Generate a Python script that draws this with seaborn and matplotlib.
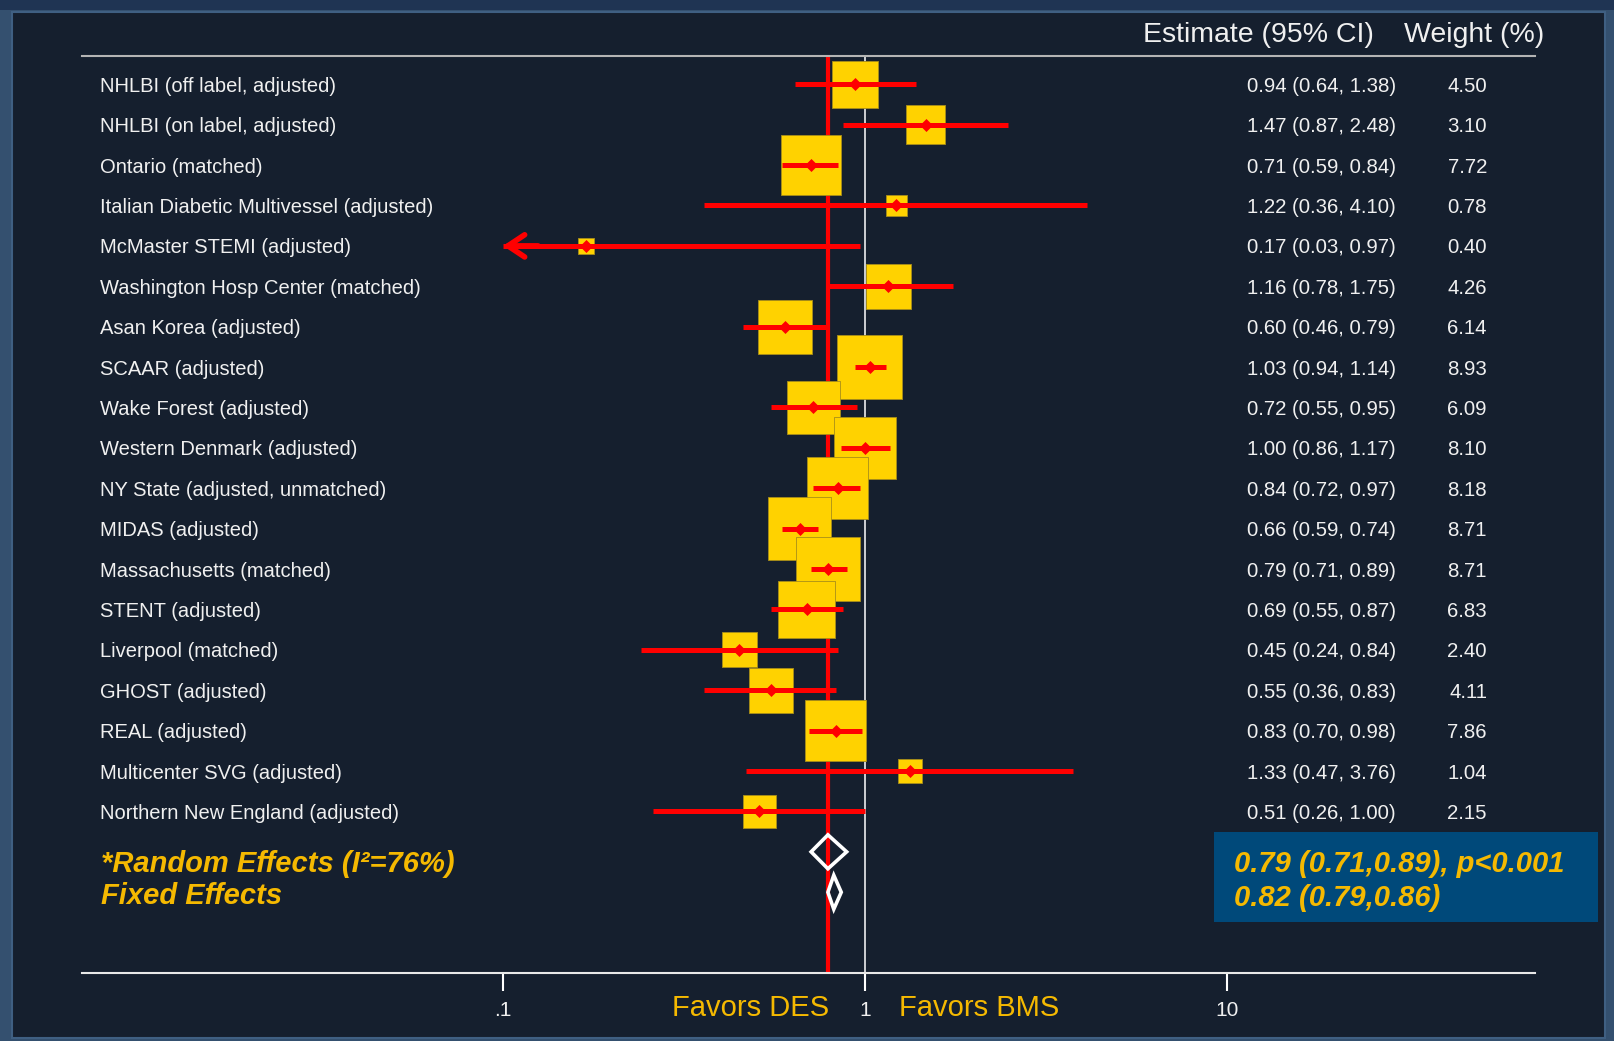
import numpy as np
import pandas as pd
import matplotlib
matplotlib.use("Agg")
import matplotlib.pyplot as plt
import matplotlib.transforms as mtransforms
from matplotlib.patches import Rectangle
from matplotlib.ticker import NullLocator
import seaborn as sns

# ---- data -------------------------------------------------------------
studies = [
    "NHLBI (off label, adjusted)",
    "NHLBI (on label, adjusted)",
    "Ontario (matched)",
    "Italian Diabetic Multivessel (adjusted)",
    "McMaster STEMI (adjusted)",
    "Washington Hosp Center (matched)",
    "Asan Korea (adjusted)",
    "SCAAR (adjusted)",
    "Wake Forest (adjusted)",
    "Western Denmark (adjusted)",
    "NY State (adjusted, unmatched)",
    "MIDAS (adjusted)",
    "Massachusetts (matched)",
    "STENT (adjusted)",
    "Liverpool (matched)",
    "GHOST (adjusted)",
    "REAL (adjusted)",
    "Multicenter SVG (adjusted)",
    "Northern New England (adjusted)",
]
estimate = [0.94, 1.47, 0.71, 1.22, 0.17, 1.16, 0.60, 1.03, 0.72, 1.00,
            0.84, 0.66, 0.79, 0.69, 0.45, 0.55, 0.83, 1.33, 0.51]
ci_low = [0.64, 0.87, 0.59, 0.36, 0.03, 0.78, 0.46, 0.94, 0.55, 0.86,
          0.72, 0.59, 0.71, 0.55, 0.24, 0.36, 0.70, 0.47, 0.26]
ci_high = [1.38, 2.48, 0.84, 4.10, 0.97, 1.75, 0.79, 1.14, 0.95, 1.17,
           0.97, 0.74, 0.89, 0.87, 0.84, 0.83, 0.98, 3.76, 1.00]
weight = [4.50, 3.10, 7.72, 0.78, 0.40, 4.26, 6.14, 8.93, 6.09, 8.10,
          8.18, 8.71, 8.71, 6.83, 2.40, 4.11, 7.86, 1.04, 2.15]

random_effect = [0.79, 0.71, 0.89]   # estimate, low, high
fixed_effect = [0.82, 0.79, 0.86]
random_label = "*Random Effects (I\u00b2=76%)"
fixed_label = "Fixed Effects"
p_value_text = "p<0.001"

x_ticks = [0.1, 1, 10]
x_tick_labels = [".1", "1", "10"]
favors_left = "Favors DES"
favors_right = "Favors BMS"
header_estimate = "Estimate (95% CI)"
header_weight = "Weight (%)"

# ---- style --------------------------------------------------------------
sns.set_theme(style="ticks")
plt.rcParams["font.family"] = ["Liberation Sans", "DejaVu Sans"]

FRAME = "#34506F"
FRAME_TOP = "#1F3453"
PANEL = "#151F2E"
GOLD_BOX = "#FFD200"
GOLD_TEXT = "#F5B901"
RED = "#FF0000"
TEXT = "#F0F0F0"
BOX_BLUE = "#00497A"

W, H = 1614, 1041
fig = plt.figure(figsize=(W / 100, H / 100), dpi=100, facecolor=FRAME)


def fx(px):
    return px / W


def fy(py):
    return 1 - py / H


# slide-style frame and dark panel
fig.add_artist(Rectangle((0, fy(10)), 1, 10 / H, transform=fig.transFigure,
                         facecolor=FRAME_TOP, edgecolor="none", zorder=-2))
fig.add_artist(Rectangle((fx(12), fy(1038)), fx(1605) - fx(12), (1038 - 12) / H,
                         transform=fig.transFigure, facecolor=PANEL,
                         edgecolor="#3F5F82", linewidth=1.5, zorder=-1))

ax = fig.add_axes([fx(82), fy(973), fx(1535) - fx(82), (973 - 56) / H])
ax.set_facecolor("none")
ax.set_xscale("log")
ax.set_xlim(10 ** -2.163, 10 ** 1.851)
n = len(studies)
ax.set_ylim(22, -0.7)

rows = np.arange(n)
df = pd.DataFrame({
    "study": studies, "est": estimate, "lo": ci_low, "hi": ci_high,
    "w": weight, "row": rows,
})

# box side grows with the square root of the weight (area ~ weight)
side_px = 3 + 20.5 * np.sqrt(df["w"].to_numpy())
side_pt = side_px * 72 / 100
box_area = side_pt ** 2

# reference lines
ax.axvline(1, color="white", lw=1.1, zorder=1)
ax.axvline(random_effect[0], color=RED, lw=3.0, zorder=1)

# weighted boxes
sns.scatterplot(data=df, x="est", y="row", marker="s", s=box_area,
                color=GOLD_BOX, edgecolor="#A88E1A", linewidth=0.6,
                zorder=3, ax=ax, legend=False)

# confidence intervals (clipped at the first tick, with an arrow)
clip_low = x_ticks[0]
lo_drawn = np.maximum(df["lo"].to_numpy(), clip_low)
ax.hlines(df["row"], lo_drawn, df["hi"], colors=RED, lw=3.6, zorder=4)
for r, lo in zip(df["row"], df["lo"]):
    if lo < clip_low:
        ax.annotate("", xy=(clip_low, r), xytext=(clip_low * 1.25, r),
                    arrowprops=dict(arrowstyle="->,head_length=0.6,head_width=0.4",
                                    color=RED, lw=4.0, shrinkA=0, shrinkB=0,
                                    mutation_scale=20),
                    zorder=4)

# point estimates
ax.scatter(df["est"], df["row"], marker="D", s=44, color=RED,
           linewidths=0, zorder=5)

# pooled diamonds
for r, (e, lo, hi) in zip([n, n + 1], [random_effect, fixed_effect]):
    h = 0.42
    ax.fill([lo, e, hi, e], [r, r - h, r, r + h], facecolor="none",
            edgecolor="white", lw=2.6, zorder=4, joinstyle="miter")

# axes decoration
ax.set_xticks(x_ticks)
ax.set_xticklabels(x_tick_labels)
ax.xaxis.set_minor_locator(NullLocator())
ax.set_yticks([])
ax.set_xlabel("")
ax.set_ylabel("")
ax.grid(False)
ax.tick_params(axis="x", which="major", direction="out", length=13, width=1.5,
               color="white", labelcolor=TEXT, labelsize=15, pad=7,
               bottom=True, top=False)
for side in ("left", "right"):
    ax.spines[side].set_visible(False)
ax.spines["bottom"].set_color("#E8E8E8")
ax.spines["bottom"].set_linewidth(1.5)
ax.spines["top"].set_color("#B4B4B4")
ax.spines["top"].set_linewidth(1.5)

# text columns
row_trans = mtransforms.offset_copy(
    mtransforms.blended_transform_factory(fig.transFigure, ax.transData),
    fig=fig, x=0, y=-2, units="dots")
for r, s, e, lo, hi, w in zip(df["row"], df["study"], df["est"], df["lo"],
                              df["hi"], df["w"]):
    ax.text(fx(100), r, s, transform=row_trans, ha="left", va="center",
            fontsize=14.5, color=TEXT)
    ax.text(fx(1396), r, f"{e:.2f} ({lo:.2f}, {hi:.2f})", transform=row_trans,
            ha="right", va="center", fontsize=14.7, color=TEXT)
    ax.text(fx(1487), r, f"{w:.2f}", transform=row_trans, ha="right",
            va="center", fontsize=14.7, color=TEXT)

fig.text(fx(1258), fy(35), header_estimate, ha="center", va="center",
         fontsize=20.5, color=TEXT)
fig.text(fx(1474), fy(35), header_weight, ha="center", va="center",
         fontsize=20.5, color=TEXT)

# pooled results
fig.text(fx(101), fy(864), random_label, ha="left", va="center",
         fontsize=21, fontweight="bold", fontstyle="italic", color=GOLD_TEXT)
fig.text(fx(101), fy(896), fixed_label, ha="left", va="center",
         fontsize=21, fontweight="bold", fontstyle="italic", color=GOLD_TEXT)

fig.add_artist(Rectangle((fx(1214), fy(922)), fx(1598) - fx(1214), (922 - 832) / H,
                         transform=fig.transFigure, facecolor=BOX_BLUE,
                         edgecolor="none", zorder=1))
re_e, re_lo, re_hi = random_effect
fe_e, fe_lo, fe_hi = fixed_effect
fig.text(fx(1234), fy(864), f"{re_e:.2f} ({re_lo:.2f},{re_hi:.2f}), {p_value_text}",
         ha="left", va="center", fontsize=21, fontweight="bold",
         fontstyle="italic", color=GOLD_TEXT)
fig.text(fx(1234), fy(898), f"{fe_e:.2f} ({fe_lo:.2f},{fe_hi:.2f})",
         ha="left", va="center", fontsize=21, fontweight="bold",
         fontstyle="italic", color=GOLD_TEXT)

# direction labels
fig.text(fx(829), fy(1008), favors_left, ha="right", va="center",
         fontsize=21, color=GOLD_TEXT)
fig.text(fx(899), fy(1008), favors_right, ha="left", va="center",
         fontsize=21, color=GOLD_TEXT)

fig.savefig("out.png", dpi=100, facecolor=fig.get_facecolor())
